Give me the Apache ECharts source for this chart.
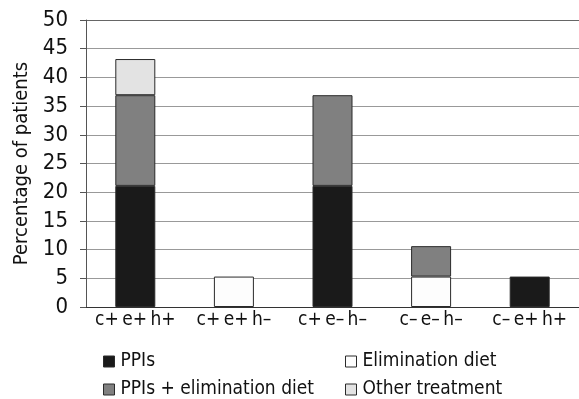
<!DOCTYPE html>
<html>
<head>
<meta charset="utf-8">
<script src="https://cdn.jsdelivr.net/npm/echarts@6/dist/echarts.min.js"></script>
<style>
  html, body { margin: 0; padding: 0; background: #fff; }
  #main { width: 579px; height: 399px; }
</style>
</head>
<body>
<div id="main"></div>
<script>
// categories and stacked values (percentage of patients)
const categories = ['c+\u2009e+\u2009h+', 'c+\u2009e+\u2009h–', 'c+\u2009e–\u2009h–', 'c–\u2009e–\u2009h–', 'c–\u2009e+\u2009h+'];
const ppis = [21.1, 0, 21.1, 0, 5.3];
const eliminationDiet = [0, 5.3, 0, 5.3, 0];
const ppisElimination = [15.8, 0, 15.8, 5.3, 0];
const otherTreatment = [6.3, 0, 0, 0, 0];
const yTicks = [0, 5, 10, 15, 20, 25, 30, 35, 40, 45, 50];

const font = '"Liberation Sans Narrow", "DejaVu Sans Condensed", sans-serif';

function nz(arr) {
  // zero segments are not drawn
  return arr.map(v => (v === 0 ? '-' : v));
}

function bar(name, data, color) {
  return {
    name: name,
    type: 'bar',
    stack: 'total',
    barWidth: 40,
    data: nz(data),
    itemStyle: { color: color, borderColor: '#2a2a2a', borderWidth: 1 }
  };
}

// one legend box per entry, laid out as 2 x 2 like the original
function legendItem(name, left, top) {
  return {
    left: left,
    top: top,
    icon: 'rect',
    itemWidth: 11,
    itemHeight: 11,
    itemGap: 0,
    data: [name],
    itemStyle: { borderColor: '#2a2a2a', borderWidth: 1 },
    textStyle: { fontFamily: font, fontSize: 19, color: '#111', padding: [0, 0, 0, 1] }
  };
}

// grid lines light grey, the top (50) line darker
const splitColors = yTicks.map((t, i) => (i === yTicks.length - 1 ? '#666' : '#999'));

const myChart = echarts.init(document.getElementById('main'));
myChart.setOption({
  animation: false,
  textStyle: { fontFamily: font },
  grid: { left: 86, right: 0, top: 20, bottom: 92 },
  legend: [
    legendItem('PPIs', 98, 347),
    legendItem('PPIs + elimination diet', 98, 375),
    legendItem('Elimination diet', 340, 347),
    legendItem('Other treatment', 340, 375)
  ],
  xAxis: {
    type: 'category',
    data: categories,
    axisLine: { show: true, lineStyle: { color: '#333', width: 1 } },
    axisTick: { show: false },
    axisLabel: { interval: 0, fontFamily: font, fontSize: 19, color: '#111', margin: 4 }
  },
  yAxis: {
    type: 'value',
    min: 0,
    max: yTicks[yTicks.length - 1],
    interval: 5,
    name: 'Percentage of patients',
    nameLocation: 'middle',
    nameGap: 53,
    nameTextStyle: { fontFamily: font, fontSize: 20, color: '#111' },
    axisLine: { show: true, lineStyle: { color: '#555', width: 1 } },
    axisTick: { show: true, inside: false, length: 6, lineStyle: { color: '#555' } },
    axisLabel: { fontFamily: font, fontSize: 22, color: '#111', margin: 18 },
    splitLine: { show: true, lineStyle: { color: splitColors, width: 1 } }
  },
  series: [
    bar('PPIs', ppis, '#1a1a1a'),
    bar('Elimination diet', eliminationDiet, '#fdfdfd'),
    bar('PPIs + elimination diet', ppisElimination, '#808080'),
    bar('Other treatment', otherTreatment, '#e3e3e3')
  ]
});
</script>
</body>
</html>
